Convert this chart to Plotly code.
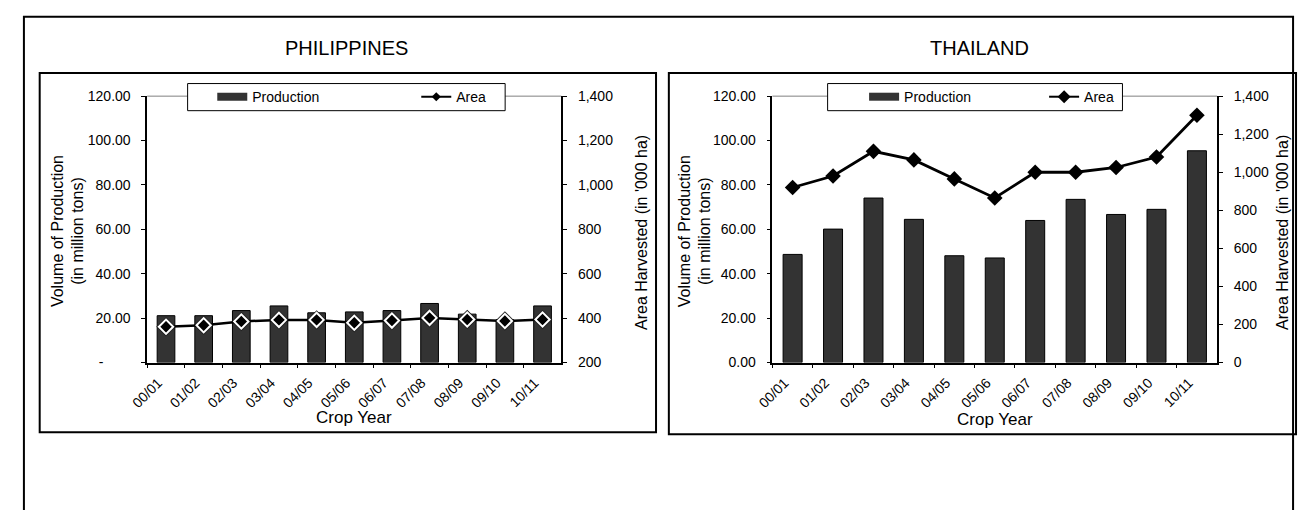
import plotly.graph_objects as go

# ---- data -------------------------------------------------------------
crop_years = ["00/01", "01/02", "02/03", "03/04", "04/05", "05/06",
              "06/07", "07/08", "08/09", "09/10", "10/11"]

# Philippines: production (million tons) and area harvested ('000 ha)
ph_production = [21.1, 21.1, 23.4, 25.5, 22.4, 22.8, 23.4, 26.6, 21.8, 19.3, 25.5]
ph_area = [361, 368, 385, 392, 392, 379, 389, 401, 394, 387, 394]

# Thailand: production (million tons) and area harvested ('000 ha)
th_production = [48.7, 60.1, 74.1, 64.5, 48.1, 47.1, 64.0, 73.5, 66.7, 69.0, 95.4]
th_area = [920, 980, 1110, 1065, 965, 865, 1000, 1000, 1025, 1080, 1300]

ph_left_ticks = [0, 20, 40, 60, 80, 100, 120]
ph_left_text = ["-\u00a0\u00a0\u00a0\u00a0\u00a0\u00a0\u00a0", "20.00", "40.00", "60.00",
                "80.00", "100.00", "120.00"]

# ---- page geometry (pixels) -------------------------------------------
W, H = 1298, 510


def fx(px):
    return px / W


def fy(py):
    return 1 - py / H


FONT = "Liberation Sans, Arial, sans-serif"
BAR_FILL = "#333333"

panels = {
    "ph": dict(x0=131, x1=551, top=91, bottom=366),
    "th": dict(x0=765, x1=1216, top=91, bottom=366),
}

fig = go.Figure()

# ---- Philippines traces -------------------------------------------------
fig.add_trace(go.Bar(
    x=crop_years, y=ph_production, name="Production", showlegend=False,
    marker=dict(color=BAR_FILL, line=dict(color="black", width=1)),
    xaxis="x", yaxis="y",
))
fig.add_trace(go.Scatter(
    x=crop_years, y=ph_area, mode="markers", showlegend=False,
    marker=dict(symbol="diamond", size=15, color="#222222"),
    xaxis="x", yaxis="y2", hoverinfo="skip",
))
fig.add_trace(go.Scatter(
    x=crop_years, y=ph_area, name="Area", mode="lines+markers",
    line=dict(color="black", width=2.5),
    marker=dict(symbol="diamond", size=11, color="black",
                line=dict(color="white", width=2)),
    xaxis="x", yaxis="y2", showlegend=False,
))

# ---- Thailand traces ----------------------------------------------------
fig.add_trace(go.Bar(
    x=crop_years, y=th_production, name="Production", showlegend=False,
    marker=dict(color=BAR_FILL, line=dict(color="black", width=1)),
    xaxis="x2", yaxis="y3",
))
fig.add_trace(go.Scatter(
    x=crop_years, y=th_area, name="Area", mode="lines+markers",
    line=dict(color="black", width=2.8),
    marker=dict(symbol="diamond", size=12, color="black"),
    xaxis="x2", yaxis="y4", showlegend=False,
))

# ---- legend keys (wide dark swatch for bars, line+diamond for area) -----
for lg, msize in (("legend", 7), ("legend2", 10)):
    fig.add_trace(go.Scatter(
        x=[None], y=[None], name="Production", mode="lines",
        line=dict(color=BAR_FILL, width=8), legend=lg,
        xaxis="x" if lg == "legend" else "x2",
        yaxis="y" if lg == "legend" else "y3",
    ))
    fig.add_trace(go.Scatter(
        x=[None], y=[None], name="Area", mode="lines+markers",
        line=dict(color="black", width=2),
        marker=dict(symbol="diamond", size=msize, color="black"), legend=lg,
        xaxis="x" if lg == "legend" else "x2",
        yaxis="y" if lg == "legend" else "y3",
    ))

tick_font = dict(family=FONT, size=14, color="black")


def cat_axis(dom, anchor):
    return dict(domain=dom, anchor=anchor, type="category",
                range=[-0.5, 10.5], tickson="boundaries", ticks="outside",
                ticklen=4, tickcolor="black", tickwidth=1,
                tickangle=-45, tickfont=dict(family=FONT, size=14, color="black"),
                ticklabelshift=-8, ticklabelstandoff=5,
                showline=True, linecolor="black", linewidth=1.5,
                showgrid=False, zeroline=False, fixedrange=True)


def inner_x(over, anchor):
    # second scale on the same span, carrying the inward half of each tick
    return dict(overlaying=over, anchor=anchor, type="linear",
                range=[-0.5, 10.5], tickmode="array",
                tickvals=[i - 0.5 for i in range(12)], ticks="inside",
                ticklen=4, tickcolor="black", tickwidth=1,
                showticklabels=False, showline=False, showgrid=False,
                zeroline=False, fixedrange=True)


def val_axis(dom, anchor, rng, side, **kw):
    d = dict(domain=dom, anchor=anchor, range=rng, side=side,
             ticks="outside", ticklen=4, tickcolor="black", tickwidth=1,
             tickfont=tick_font, ticklabelstandoff=8,
             showline=True, linecolor="black", linewidth=1.5,
             showgrid=False, zeroline=False, fixedrange=True)
    d.update(kw)
    return d


def inner_y(over, anchor, rng, side, dtick):
    return dict(overlaying=over, anchor=anchor, range=rng, side=side,
                tickmode="linear", tick0=rng[0], dtick=dtick, ticks="inside",
                ticklen=4, tickcolor="black", tickwidth=1,
                showticklabels=False, showline=False, showgrid=False,
                zeroline=False, fixedrange=True)


ph, th = panels["ph"], panels["th"]
ph_xd = [fx(ph["x0"]), fx(ph["x1"])]
th_xd = [fx(th["x0"]), fx(th["x1"])]
yd = [fy(ph["bottom"]), fy(ph["top"])]

layout_axes = dict(
    xaxis=cat_axis(ph_xd, "y"),
    xaxis2=cat_axis(th_xd, "y3"),
    xaxis3=inner_x("x", "y"),
    xaxis4=inner_x("x2", "y3"),
    yaxis=val_axis(yd, "x", [0, 120], "left", tickmode="array",
                   tickvals=ph_left_ticks, ticktext=ph_left_text),
    yaxis2=val_axis(yd, "x", [200, 1400], "right", overlaying="y",
                    tickmode="linear", tick0=200, dtick=200, tickformat=",d"),
    yaxis3=val_axis(yd, "x2", [0, 120], "left", tickmode="linear",
                    tick0=0, dtick=20, tickformat=".2f"),
    yaxis4=val_axis(yd, "x2", [0, 1400], "right", overlaying="y3",
                    tickmode="linear", tick0=0, dtick=200, tickformat=",d"),
    yaxis5=inner_y("y", "x", [0, 120], "left", 20),
    yaxis6=inner_y("y", "x", [200, 1400], "right", 200),
    yaxis7=inner_y("y3", "x2", [0, 120], "left", 20),
    yaxis8=inner_y("y3", "x2", [0, 1400], "right", 200),
)


def rect(x0, y0, x1, y1, width=2, color="black", fill="rgba(0,0,0,0)"):
    return dict(type="rect", xref="paper", yref="paper",
                x0=fx(x0), x1=fx(x1), y0=fy(y1), y1=fy(y0),
                line=dict(color=color, width=width), fillcolor=fill,
                layer="below")


def hline(x0, x1, y, color="#808080", width=1):
    return dict(type="line", xref="paper", yref="paper",
                x0=fx(x0), x1=fx(x1), y0=fy(y), y1=fy(y),
                line=dict(color=color, width=width), layer="below")


shapes = [
    rect(6, 9, 1293, 530),          # page frame
    rect(22, 67, 647, 438),         # Philippines chart box
    rect(660, 67, 1296, 440),       # Thailand chart box
    hline(ph["x0"], ph["x1"], ph["top"]),
    hline(th["x0"], th["x1"], th["top"]),
    rect(172, 78, 494, 106, width=1, fill="white"),    # legend frames
    rect(821, 78, 1120, 106, width=1, fill="white"),
]


def label(text, x, y, size, angle=0):
    return dict(text=text, x=fx(x), y=fy(y), xref="paper", yref="paper",
                showarrow=False, textangle=angle, xanchor="center",
                yanchor="middle", font=dict(family=FONT, size=size, color="black"))


annotations = [
    label("PHILIPPINES", 333, 41, 20),
    label("THAILAND", 975, 41, 20),
    label("Volume of Production<br>(in million tons)", 50, 230, 16, -90),
    label("Volume of Production<br>(in million tons)", 686, 230, 16, -90),
    label("Area Harvested (in '000 ha)", 632, 232, 16, -90),
    label("Area Harvested (in '000 ha)", 1282, 232, 16, -90),
    label("Crop Year", (ph["x0"] + ph["x1"]) / 2, 423, 17),
    label("Crop Year", (th["x0"] + th["x1"]) / 2, 425, 17),
]


def legend_keys(x, entry):
    return dict(orientation="h", x=fx(x), y=fy(92), xanchor="left",
                yanchor="middle", bgcolor="rgba(0,0,0,0)", borderwidth=0,
                entrywidth=entry, entrywidthmode="pixels",
                font=dict(family=FONT, size=14, color="black"),
                itemclick=False, itemdoubleclick=False)


fig.update_layout(
    width=W, height=H, autosize=False,
    margin=dict(l=0, r=0, t=0, b=0),
    paper_bgcolor="white", plot_bgcolor="rgba(0,0,0,0)",
    font=dict(family=FONT, size=12, color="black"),
    bargap=0.53, showlegend=True,
    legend=legend_keys(197, 159),
    legend2=legend_keys(858, 135),
    shapes=shapes, annotations=annotations,
    **layout_axes,
)

fig.write_html("out.html", post_script="document.body.style.margin='0';")
